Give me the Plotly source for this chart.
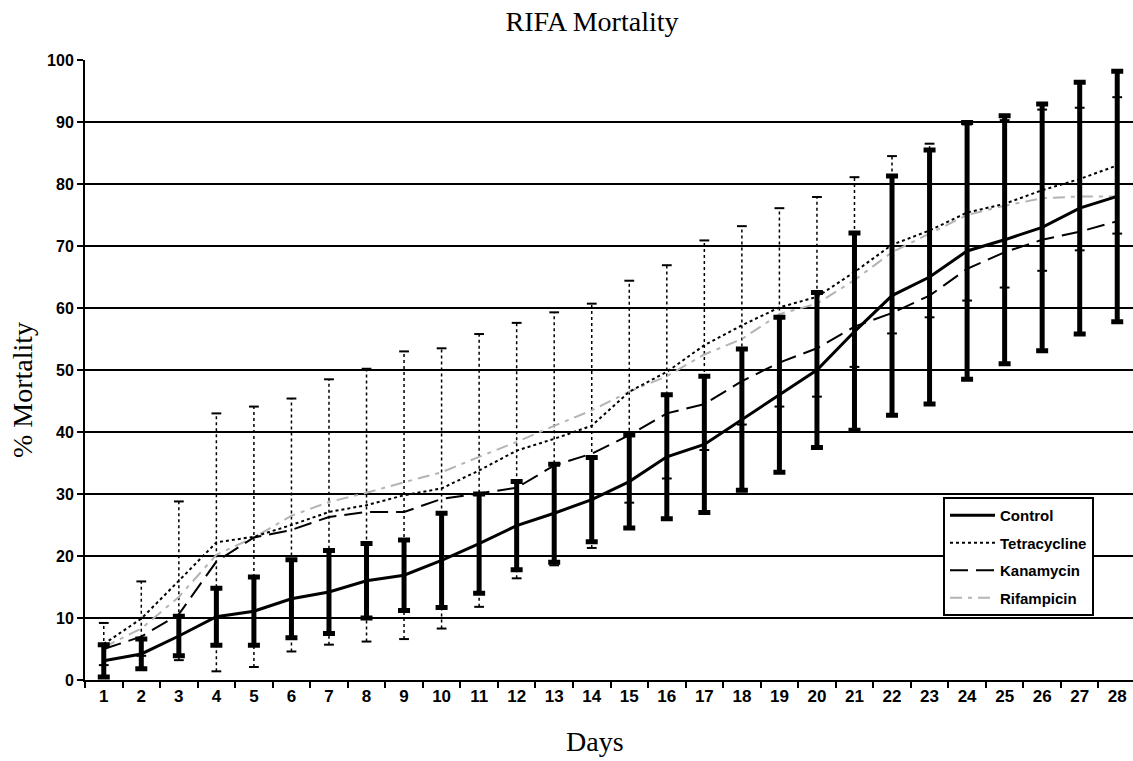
import plotly.graph_objects as go

# ---------------- data ----------------
days = [str(d) for d in range(1, 29)]

control = [3.1, 4.2, 7.1, 10.2, 11.1, 13.1, 14.2, 16.0, 16.9, 19.3, 22.0, 24.9, 26.9, 29.1,
           32.0, 36.0, 38.0, 42.0, 46.0, 50.0, 56.2, 62.0, 65.0, 69.2, 71.0, 73.0, 76.1, 78.0]
control_err = [2.6, 2.4, 3.2, 4.6, 5.5, 6.3, 6.7, 6.0, 5.7, 7.6, 8.0, 7.1, 7.9, 6.8,
               7.5, 10.0, 11.0, 11.4, 12.5, 12.5, 15.9, 19.3, 20.5, 20.7, 20.0, 19.9, 20.3, 20.2]

tetracycline = [5.8, 9.9, 16.0, 22.2, 23.1, 25.0, 27.1, 28.2, 29.8, 30.9, 33.8, 37.0, 38.9, 41.0,
                46.5, 49.7, 54.0, 57.2, 60.1, 61.8, 65.8, 70.2, 72.5, 75.4, 76.8, 79.0, 80.8, 83.0]
tetracycline_err = [3.4, 6.0, 12.8, 20.8, 21.0, 20.4, 21.4, 22.0, 23.2, 22.6, 22.0, 20.6, 20.4, 19.7,
                    17.9, 17.2, 16.9, 16.0, 16.0, 16.1, 15.3, 14.3, 14.0, 14.2, 13.5, 13.0, 11.5, 11.0]

kanamycin = [5.0, 7.0, 10.6, 19.1, 23.0, 24.2, 26.3, 27.1, 27.1, 29.2, 30.1, 31.0, 34.6, 36.5,
             39.5, 43.0, 44.5, 48.2, 51.2, 53.5, 57.0, 59.2, 62.0, 66.3, 69.0, 71.0, 72.3, 74.0]

rifampicin = [5.3, 8.3, 13.4, 20.2, 23.0, 26.5, 28.7, 30.2, 31.9, 33.5, 36.0, 38.4, 41.0, 43.5,
              46.5, 49.0, 52.5, 55.0, 59.0, 60.7, 64.5, 69.0, 72.0, 75.0, 76.5, 77.7, 78.0, 78.0]

y_ticks = [0, 10, 20, 30, 40, 50, 60, 70, 80, 90, 100]

# ---------------- figure ----------------
fig = go.Figure()

# Tetracycline dotted error bars (vertical segments)
tet_lo = [v - e for v, e in zip(tetracycline, tetracycline_err)]
tet_hi = [v + e for v, e in zip(tetracycline, tetracycline_err)]
seg_x, seg_y = [], []
for d, lo, hi in zip(days, tet_lo, tet_hi):
    seg_x += [d, d, None]
    seg_y += [lo, hi, None]
fig.add_trace(go.Scatter(x=seg_x, y=seg_y, mode="lines", showlegend=False, hoverinfo="skip",
                         line=dict(color="black", width=1.5, dash="3px,3px")))
fig.add_trace(go.Scatter(x=days + days, y=tet_lo + tet_hi, mode="markers", showlegend=False,
                         hoverinfo="skip",
                         marker=dict(symbol="line-ew", size=7, line=dict(color="black", width=2))))

# Series lines
fig.add_trace(go.Scatter(x=days, y=rifampicin, mode="lines", name="Rifampicin", legendrank=4,
                         legendgroup="d",
                         line=dict(color="#b4b4b4", width=2, dash="12px,6px,4px,6px")))
fig.add_trace(go.Scatter(x=days, y=kanamycin, mode="lines", name="Kanamycin", legendrank=3,
                         legendgroup="c",
                         line=dict(color="black", width=2, dash="18px,8px")))
fig.add_trace(go.Scatter(x=days, y=tetracycline, mode="lines", name="Tetracycline", legendrank=2,
                         legendgroup="b",
                         line=dict(color="black", width=2, dash="3px,3px")))
fig.add_trace(go.Scatter(x=days, y=control, mode="lines", name="Control", legendrank=1,
                         legendgroup="a",
                         line=dict(color="black", width=3),
                         error_y=dict(type="data", array=control_err, visible=True,
                                      color="black", thickness=5, width=6)))

serif = "Liberation Serif, Times New Roman, serif"
sans = "Liberation Sans, Arial, sans-serif"

fig.update_layout(
    width=1133, height=761,
    margin=dict(l=85, r=0, t=60, b=81, autoexpand=False),
    paper_bgcolor="white", plot_bgcolor="white",
    title=dict(text="RIFA Mortality", x=592 / 1133, xanchor="center", y=1 - 21 / 761,
               yanchor="middle",
               font=dict(family=serif, size=28, color="black")),
    xaxis=dict(type="category", range=[-0.5, 27.42], tickson="boundaries", automargin=False,
               ticks="outside", ticklen=6, tickwidth=2, tickcolor="black",
               showline=True, linecolor="black", linewidth=2, showgrid=False, zeroline=False,
               tickfont=dict(family=sans, size=17, color="black", weight="bold")),
    yaxis=dict(range=[0, 100], tickvals=y_ticks, ticks="outside", ticklen=6, tickwidth=2,
               automargin=False,
               tickcolor="black", showline=True, linecolor="black", linewidth=2,
               showgrid=True, gridcolor="black", gridwidth=2, zeroline=False,
               tickfont=dict(family=sans, size=16, color="black", weight="bold")),
    legend=dict(x=(943 - 85) / 1048, y=(680 - 497) / 620, xanchor="left", yanchor="top",
                bgcolor="white", bordercolor="black", borderwidth=2, itemwidth=45,
                tracegroupgap=5, traceorder="grouped",
                font=dict(family=sans, size=15, color="black", weight="bold")),
    annotations=[
        dict(text="Days", xref="paper", yref="paper", x=(595 - 85) / 1048, y=-(741 - 680) / 620,
             xanchor="center", yanchor="middle", showarrow=False,
             font=dict(family=serif, size=28, color="black")),
        dict(text="% Mortality", xref="paper", yref="paper", x=-(85 - 22) / 1048,
             y=(680 - 390) / 620, xanchor="center", yanchor="middle", textangle=-90,
             showarrow=False,
             font=dict(family=serif, size=28, color="black")),
    ],
)

fig.write_html("out.html",
               config={"displayModeBar": False},
               post_script="document.body.style.margin='0';document.body.style.padding='0';"
                           "document.body.style.overflow='hidden';")
